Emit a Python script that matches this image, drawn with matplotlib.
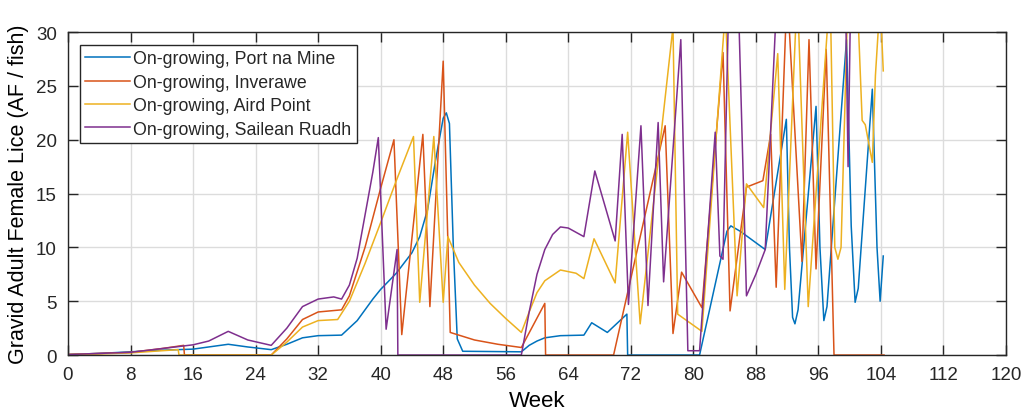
import numpy as np
import matplotlib
matplotlib.use('Agg')
import matplotlib.pyplot as plt

plt.rcParams['font.family'] = ['Liberation Sans', 'DejaVu Sans']
plt.rcParams['axes.edgecolor'] = '#262626'
plt.rcParams['xtick.color'] = '#262626'
plt.rcParams['ytick.color'] = '#262626'
plt.rcParams['text.color'] = '#262626'

# week / value pairs, one list pair per site
pnm_weeks = [0, 4, 8, 12, 16, 20.5, 23, 26, 28, 30, 32, 35, 37, 39, 40, 42, 44, 45, 46, 47, 48,
             48.4, 48.8, 49.3, 49.8, 50.5, 58, 59, 60, 61, 63, 66, 67, 69, 71.5, 71.6, 80.8,
             84.3, 84.8, 86, 89.2, 91.9, 92.3, 92.7, 93.0, 93.4, 95.7, 96.2, 96.7, 97.1,
             99.6, 100.2, 100.7, 101.1, 102.9, 103.5, 103.9, 104.3]
pnm_vals = [0.05, 0.15, 0.3, 0.45, 0.55, 1.0, 0.75, 0.5, 1.0, 1.6, 1.8, 1.85, 3.2, 5.2, 6.1, 7.6, 9.5, 11, 13.5, 18, 22,
            22.5, 21.5, 10, 1.5, 0.35, 0.3, 0.9, 1.3, 1.6, 1.8, 1.85, 3.0, 2.1, 3.8, 0, 0,
            11.5, 12.0, 11.5, 9.8, 21.9, 10, 3.5, 2.9, 4.2, 23.1, 10, 3.2, 4.5,
            29.3, 12, 4.9, 6.2, 24.7, 10, 5.0, 9.2]

inv_weeks = [0, 4, 8, 12, 14.8, 14.9, 26, 28, 30, 32, 35, 36, 38, 40, 41.7, 42.7, 45.4, 46.3, 48,
             48.9, 52, 55, 58, 61, 61.1, 69.8, 76.4, 77.4, 78.5, 81.1, 83.8, 84.7, 86.8, 88.9,
             89.9, 90.6, 92.0, 93.9, 94.8, 95.7, 97.0, 97.7, 98.0, 104.4]
inv_vals = [0.05, 0.15, 0.25, 0.6, 0.9, 0, 0, 1.5, 3.3, 4.0, 4.2, 5.5, 10, 15.5, 20, 1.9, 20.5, 4.5, 27.3,
            2.1, 1.4, 1.0, 0.7, 4.8, 0, 0, 21.3, 2.0, 7.7, 4.4, 28.1, 4.1, 15.6, 16.2,
            20.5, 6.3, 34, 8.7, 29.3, 8.0, 28.4, 8.7, 0, 0]

aird_weeks = [0, 4, 8, 12, 14.1, 14.2, 26, 28, 30, 32, 34.5, 36, 38, 40, 42, 44.2, 45.0, 46.8, 48.0,
              48.6, 50, 52, 54, 56, 58, 59, 60, 61, 63, 65, 66, 67.3, 70, 71.6, 73.2, 77.4, 78.0,
              81.1, 84.1, 85.6, 86.8, 89.0, 90.8, 91.7, 93.3, 94.7, 97.5, 98.1, 98.5, 98.9, 99.8,
              101.1, 101.6, 102.0, 102.9, 103.3, 103.9, 104.3]
aird_vals = [0.05, 0.1, 0.2, 0.4, 0.5, 0, 0, 1.2, 2.6, 3.2, 3.3, 5, 8.5, 12.3, 16.2, 20.3, 4.9, 20.3, 4.9,
             11, 8.6, 6.5, 4.8, 3.4, 2.1, 4, 5.8, 6.9, 7.9, 7.6, 7.1, 10.8, 6.7, 20.7, 2.9, 30.5, 3.8,
             2.2, 32, 5.5, 15.9, 13.7, 28, 6.1, 34, 4.5, 34, 10, 8.9, 10, 34,
             31, 21.8, 21.4, 17.9, 26, 33, 26.4]

sr_weeks = [0, 4, 8, 12, 16, 18, 20.5, 23, 26, 28, 30, 32, 34, 35, 36, 37, 38, 39, 39.7, 40.7, 42.1,
            42.2, 58, 59, 60, 61, 62, 63, 64, 66, 67.4, 70, 70.9, 71.7, 73.3, 74.2, 75.5, 76.2, 78.4,
            79.3, 80.8, 82.8, 83.4, 83.8, 84.5, 85.8, 86.8, 88, 89.2, 90.6, 99.5, 99.8, 100.1, 104.3]
sr_vals = [0.05, 0.15, 0.25, 0.6, 0.95, 1.3, 2.2, 1.4, 0.9, 2.5, 4.5, 5.2, 5.4, 5.2, 6.5, 9, 13, 17, 20.2, 2.4, 9.8,
           0, 0, 4, 7.5, 9.8, 11.2, 11.9, 11.8, 11, 17.1, 10.6, 20.5, 4.7, 21.3, 4.6, 21.6, 6.8, 29.3,
           0.4, 0.4, 20.7, 9.2, 8.9, 32, 32, 5.5, 7.5, 9.8, 32, 32, 17.5, 32, 32]

labels = ['On-growing, Port na Mine', 'On-growing, Inverawe',
          'On-growing, Aird Point', 'On-growing, Sailean Ruadh']
colors = ['#0072BD', '#D95319', '#EDB120', '#7E2F8E']

fig = plt.figure(figsize=(10.24, 4.14), dpi=100)
ax = fig.add_axes([0.0664, 0.140, 0.916, 0.780])

series = [(pnm_weeks, pnm_vals), (inv_weeks, inv_vals), (aird_weeks, aird_vals), (sr_weeks, sr_vals)]
for (w, v), lab, c in zip(series, labels, colors):
    ax.plot(w, v, color=c, linewidth=1.1, label=lab)

ax.set_xlim(0, 120)
ax.set_ylim(0, 30)
ax.set_xticks(np.arange(0, 121, 8))
ax.set_yticks(np.arange(0, 31, 5))
ax.grid(True, color='#dcdcdc', linewidth=1)
ax.set_axisbelow(True)
ax.tick_params(direction='in', length=7, width=1, top=True, right=True, labelsize=13.5, pad=8)
for s in ax.spines.values():
    s.set_linewidth(1)

ax.set_xlabel('Week', fontsize=16, labelpad=5)
ax.set_ylabel('Gravid Adult Female Lice (AF / fish)', fontsize=15.5, labelpad=5)

leg = ax.legend(loc='upper left', bbox_to_anchor=(0.0128, 0.96), borderaxespad=0,
                fontsize=12.8, handlelength=2.5, handletextpad=0.2, labelspacing=0.36,
                fancybox=False, framealpha=1, edgecolor='#262626', borderpad=0.3)
leg.get_frame().set_linewidth(1)

fig.savefig('out.png', dpi=100)
